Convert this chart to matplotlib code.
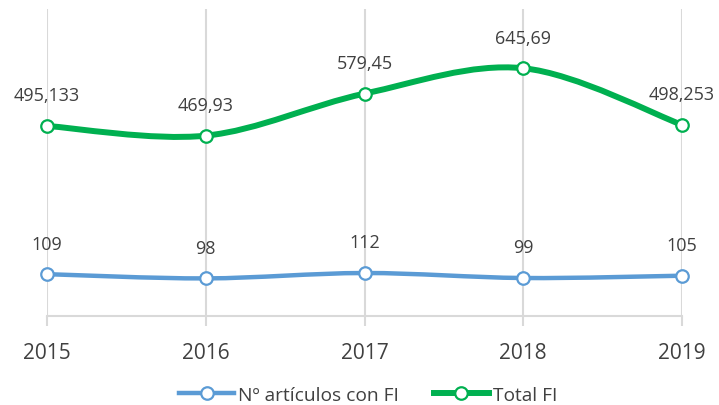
import numpy as np
import matplotlib.pyplot as plt
from matplotlib.path import Path
from matplotlib.patches import PathPatch
from matplotlib.lines import Line2D

plt.rcParams['font.family'] = ['Open Sans', 'DejaVu Sans']

years = ["2015", "2016", "2017", "2018", "2019"]
articulos = [109, 98, 112, 99, 105]
total_fi = [495.133, 469.93, 579.45, 645.69, 498.253]
articulos_lbl = ["109", "98", "112", "99", "105"]
total_lbl = ["495,133", "469,93", "579,45", "645,69", "498,253"]

blue = "#5B9BD5"
green = "#00B050"
txt = "#404040"
grid = "#D9D9D9"


def smooth_path(x, y):
    # bezier through the points, excel style smoothing
    x = np.asarray(x, float)
    y = np.asarray(y, float)
    n = len(x)
    verts = [(x[0], y[0])]
    codes = [Path.MOVETO]
    for i in range(n - 1):
        p0 = (x[max(i - 1, 0)], y[max(i - 1, 0)])
        p1 = (x[i], y[i])
        p2 = (x[i + 1], y[i + 1])
        p3 = (x[min(i + 2, n - 1)], y[min(i + 2, n - 1)])
        c1 = (p1[0] + (p2[0] - p0[0]) / 6, p1[1] + (p2[1] - p0[1]) / 6)
        c2 = (p2[0] - (p3[0] - p1[0]) / 6, p2[1] - (p3[1] - p1[1]) / 6)
        verts += [c1, c2, p2]
        codes += [Path.CURVE4] * 3
    return Path(verts, codes)


fig = plt.figure(figsize=(7.19, 4.06), dpi=100)
ax = fig.add_axes([47 / 719, 1 - 317 / 406, 635 / 719, 307 / 406])

xs = np.arange(len(years))
for vals, lbls, col, lw in [(total_fi, total_lbl, green, 4.3),
                            (articulos, articulos_lbl, blue, 3.2)]:
    ax.add_patch(PathPatch(smooth_path(xs, vals), fill=False, edgecolor=col,
                           lw=lw, capstyle='round', joinstyle='round', zorder=3,
                           clip_on=False))
    ax.plot(xs, vals, linestyle='none', marker='o', ms=9, mfc='white', mec=col,
            mew=1.6, zorder=4, clip_on=False)
    for xi, v, s in zip(xs, vals, lbls):
        ax.annotate(s, (xi, v), xytext=(0, 22), textcoords='offset points',
                    ha='center', va='center', fontsize=13, color=txt)

ax.set_xlim(0, 4)
ax.set_ylim(0, 800)
ax.set_xticks(xs)
ax.set_xticklabels(years, fontsize=15, color=txt)
ax.set_yticks([])
ax.grid(axis='x', color=grid, lw=1.5)
ax.set_axisbelow(True)
for s in ['top', 'right', 'left']:
    ax.spines[s].set_visible(False)
ax.spines['bottom'].set_color(grid)
ax.spines['bottom'].set_linewidth(1.5)
ax.tick_params(axis='x', length=7, width=1.5, color=grid, pad=12)

handles = [
    Line2D([], [], color=blue, lw=3.2, marker='o', ms=9, mfc='white', mec=blue, mew=1.6),
    Line2D([], [], color=green, lw=4.3, marker='o', ms=9, mfc='white', mec=green, mew=1.6),
]
fig.legend(handles, ["Nº artículos con FI", "Total FI"], loc='center',
           bbox_to_anchor=(0.512, 1 - 396 / 406), ncol=2, frameon=False,
           fontsize=13.8, labelcolor=txt, handlelength=2.9, handletextpad=0.2,
           columnspacing=1.8)

fig.savefig("out.png", dpi=100)
